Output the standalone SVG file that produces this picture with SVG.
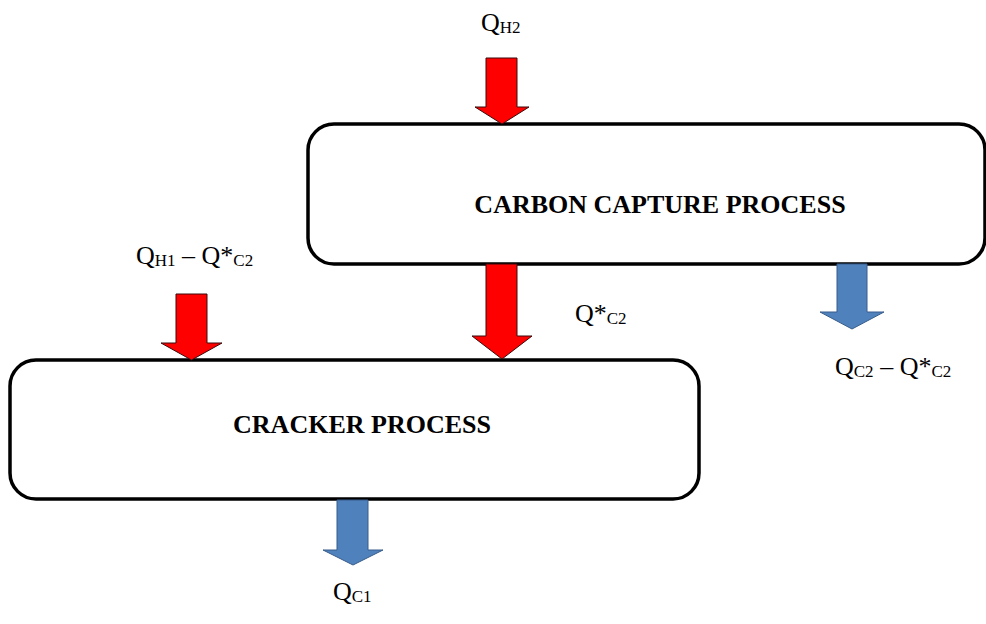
<svg xmlns="http://www.w3.org/2000/svg" width="986" height="624" viewBox="0 0 986 624">
<style>
.box{fill:#fff;stroke:#000;stroke-width:3.5}
.title{font-family:"Liberation Serif",serif;font-weight:bold;font-size:26px;text-anchor:middle;fill:#000}
.lbl{font-family:"Liberation Serif",serif;font-size:26px;fill:#000}
.sub{font-size:17px}
.red{fill:#ff0000;stroke:#3a0a0a;stroke-width:1}
.blue{fill:#4f81bd;stroke:#385d8a;stroke-width:1}
</style>
<rect width="986" height="624" fill="#fff"/>
<g id="carbon-capture">
<rect class="box" x="308" y="124" width="677" height="140" rx="26"/>
<text class="title" x="660" y="213">CARBON CAPTURE PROCESS</text>
</g>
<g id="cracker">
<rect class="box" x="10" y="360" width="689" height="139" rx="26"/>
<text class="title" x="362" y="433">CRACKER PROCESS</text>
</g>
<g id="connectors">
<polygon class="red" points="486,58 517,58 517,107 529,107 502,124 475,107 486,107"/>
<polygon class="red" points="176,294 207,294 207,343 222,343 191.5,360 161,343 176,343"/>
<polygon class="red" points="486,264 517,264 517,336 532,336 502,359 472,336 486,336"/>
<polygon class="blue" points="837,264 867,264 867,312 884,312 852,329 820,312 837,312"/>
<polygon class="blue" points="337,500 368,500 368,550 383,550 353,565 323,550 337,550"/>
</g>
<g id="labels">
<text class="lbl" x="481" y="31">Q<tspan class="sub" dy="2">H2</tspan></text>
<text class="lbl" x="136" y="264">Q<tspan class="sub" dy="2">H1</tspan><tspan dy="-2"> – Q*</tspan><tspan class="sub" dy="2">C2</tspan></text>
<text class="lbl" x="575" y="322">Q*<tspan class="sub" dy="2">C2</tspan></text>
<text class="lbl" x="835" y="375">Q<tspan class="sub" dy="2">C2</tspan><tspan dy="-2"> – Q*</tspan><tspan class="sub" dy="2">C2</tspan></text>
<text class="lbl" x="333" y="600">Q<tspan class="sub" dy="2">C1</tspan></text>
</g>
</svg>
